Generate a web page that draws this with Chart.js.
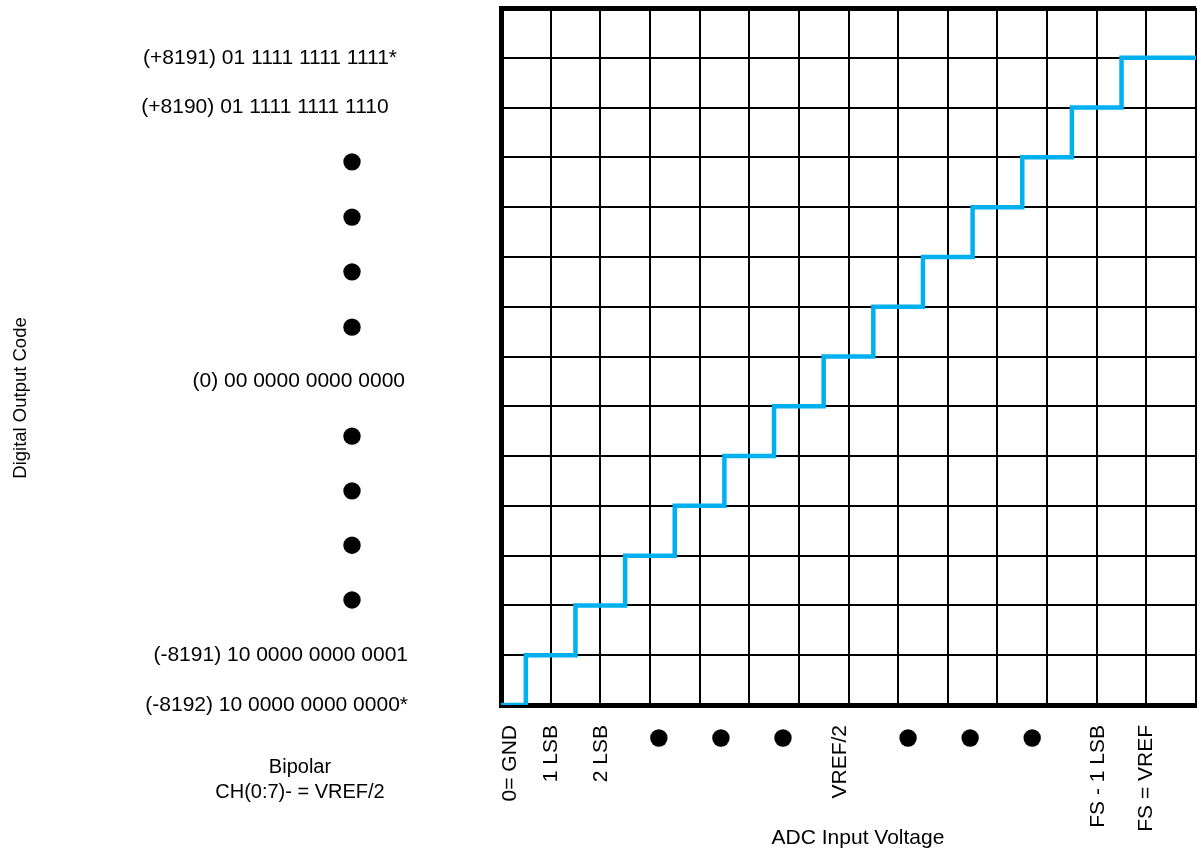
<!DOCTYPE html>
<html>
<head>
<meta charset="utf-8">
<title>ADC transfer function</title>
<script src="https://cdn.jsdelivr.net/npm/chart.js@4.4.1/dist/chart.umd.min.js"></script>
<style>
  html, body { margin: 0; padding: 0; background: #fff; }
  #adcChart { display: block; }
</style>
</head>
<body>
<canvas id="adcChart" width="1197" height="852"></canvas>
<script>
// staircase: input voltage (in LSB) where each code starts, and the output code level
var inputLsb = [0, 0.5, 1.5, 2.5, 3.5, 4.5, 5.5, 6.5, 7.5, 8.5, 9.5, 10.5, 11.5, 12.5, 14];
var outputLevel = [0, 1, 2, 3, 4, 5, 6, 7, 8, 9, 10, 11, 12, 13, 13];

// x axis labels
var inputTickPositions = [0.19, 1.02, 2.01, 6.83, 12.02, 13.0];
var inputTickLabels = ['0= GND', '1 LSB', '2 LSB', 'VREF/2', 'FS - 1 LSB', 'FS = VREF'];
var inputDotPositions = [3.18, 4.43, 5.68, 8.2, 9.45, 10.7];

// y side labels
var codePositions = [13, 12, 6.5, 1, 0];
var codeLabels = [
    '(+8191) 01 1111 1111 1111*',
    '(+8190) 01 1111 1111 1110',
    '(0) 00 0000 0000 0000',
    '(-8191) 10 0000 0000 0001',
    '(-8192) 10 0000 0000 0000*'
];
var codeDotPositions = [10.91, 9.8, 8.7, 7.59, 5.4, 4.3, 3.21, 2.11];

var fontFamily = '"Liberation Sans", Arial, sans-serif';
Chart.defaults.font.family = fontFamily;
Chart.defaults.color = '#000';

// where each side label is anchored (align, x pixel)
var codeAnchors = [['center', 270], ['center', 265], ['right', 405], ['right', 408], ['right', 408]];

var annotations = {
    id: 'annotations',
    afterDraw: function (chart) {
        var ctx = chart.ctx;
        var x = chart.scales.x;
        var y = chart.scales.y;
        ctx.save();
        ctx.fillStyle = '#000';
        ctx.font = '21px ' + fontFamily;
        ctx.textBaseline = 'middle';

        codeLabels.forEach(function (text, i) {
            ctx.textAlign = codeAnchors[i][0];
            ctx.fillText(text, codeAnchors[i][1], y.getPixelForValue(codePositions[i]));
        });

        codeDotPositions.forEach(function (v) {
            ctx.beginPath();
            ctx.arc(352, y.getPixelForValue(v), 8.7, 0, Math.PI * 2);
            ctx.fill();
        });
        inputDotPositions.forEach(function (v) {
            ctx.beginPath();
            ctx.arc(x.getPixelForValue(v), 738, 8.7, 0, Math.PI * 2);
            ctx.fill();
        });

        ctx.textAlign = 'center';
        ctx.fillText('ADC Input Voltage', 858, 838);
        ctx.font = '20px ' + fontFamily;
        ctx.fillText('Bipolar', 300, 767);
        ctx.fillText('CH(0:7)- = VREF/2', 300, 792);

        ctx.font = '18.5px ' + fontFamily;
        ctx.translate(21, 398);
        ctx.rotate(-Math.PI / 2);
        ctx.fillText('Digital Output Code', 0, 0);
        ctx.restore();
    }
};

var ctx = document.getElementById('adcChart').getContext('2d');
var myChart = new Chart(ctx, {
    type: 'line',
    data: {
        datasets: [{
            label: 'Output code',
            data: inputLsb.map(function (v, i) { return { x: v, y: outputLevel[i] }; }),
            stepped: 'before',
            borderColor: '#00B0F0',
            borderWidth: 4.5,
            pointRadius: 0,
            fill: false
        }]
    },
    options: {
        responsive: false,
        animation: false,
        devicePixelRatio: 1,
        layout: { padding: { left: 501, top: 8, right: 1, bottom: 0 } },
        plugins: {
            legend: { display: false },
            tooltip: { enabled: false }
        },
        scales: {
            x: {
                type: 'linear',
                min: 0,
                max: 14,
                position: 'bottom',
                ticks: { display: false, stepSize: 1 },
                grid: { color: '#000', lineWidth: 2, drawTicks: false },
                border: { display: true, color: '#000', width: 5 },
                afterFit: function (s) { s.height = 0; }
            },
            xLabels: {
                type: 'linear',
                min: 0,
                max: 14,
                position: 'bottom',
                grid: { display: false, drawTicks: false },
                border: { display: false },
                afterBuildTicks: function (s) {
                    s.ticks = inputTickPositions.map(function (v) { return { value: v }; });
                },
                ticks: {
                    autoSkip: false,
                    minRotation: 90,
                    maxRotation: 90,
                    padding: 20,
                    color: '#000',
                    font: { size: 21 },
                    callback: function (value, index) { return inputTickLabels[index]; }
                },
                afterFit: function (s) { s.height = 147; }
            },
            y: {
                type: 'linear',
                min: 0,
                max: 14,
                ticks: { display: false, stepSize: 1 },
                grid: {
                    color: '#000',
                    drawTicks: false,
                    lineWidth: function (c) { return c.tick && c.tick.value === 14 ? 5 : 2; }
                },
                border: { display: true, color: '#000', width: 5 },
                afterFit: function (s) { s.width = 0; }
            }
        }
    },
    plugins: [annotations]
});
</script>
</body>
</html>
